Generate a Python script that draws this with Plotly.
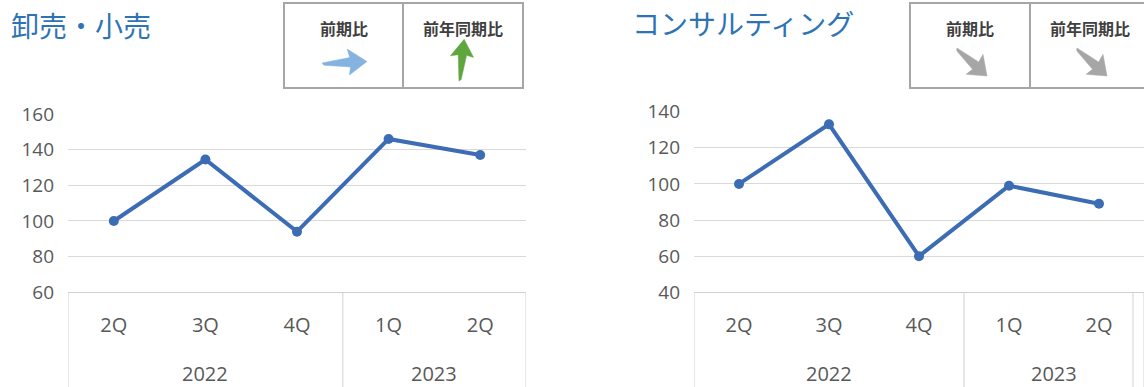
import math
import plotly.graph_objects as go

# ---- data -------------------------------------------------------------
quarters = ["2Q", "3Q", "4Q", "1Q", "2Q"]
years = ["2022", "2023"]
year_spans = [(0, 2), (3, 4)]          # index range of quarters per year
retail_values = [100, 134.5, 94, 146, 137]
consulting_values = [100, 133, 60, 99, 89]
titles = ["卸売・小売", "コンサルティング"]
badge_labels = ["前期比", "前年同期比"]
retail_yticks = [60, 80, 100, 120, 140, 160]
consulting_yticks = [40, 60, 80, 100, 120, 140]

W, H = 1144, 387
LINE_BLUE = "#3C6DB4"
GRID = "#D9D9D9"
TICK_GRAY = "#595959"
FONT = "Noto Sans CJK JP"
NUM_FONT = "Open Sans"


def px(x):
    return x / W


def py(y):
    return 1 - y / H


fig = go.Figure()

xpos = list(range(len(quarters)))
fig.add_trace(go.Scatter(
    x=xpos, y=retail_values, mode="lines+markers",
    line=dict(color=LINE_BLUE, width=4),
    marker=dict(size=10, color=LINE_BLUE),
    xaxis="x", yaxis="y", showlegend=False, hoverinfo="skip"))
fig.add_trace(go.Scatter(
    x=xpos, y=consulting_values, mode="lines+markers",
    line=dict(color=LINE_BLUE, width=4),
    marker=dict(size=10, color=LINE_BLUE),
    xaxis="x2", yaxis="y2", showlegend=False, hoverinfo="skip"))

xaxis_common = dict(
    range=[-0.5, len(quarters) - 0.5], tickmode="array", tickvals=xpos,
    ticktext=quarters, showgrid=False, zeroline=False,
    showline=True, linecolor="#D0D0D0", linewidth=1,
    ticks="", ticklabelstandoff=15, automargin=False,
    tickfont=dict(family=NUM_FONT, size=20, color=TICK_GRAY),
    fixedrange=True)
yaxis_common = dict(
    showgrid=True, gridcolor=GRID, gridwidth=1, zeroline=False,
    showline=False, ticks="", ticklabelstandoff=13, automargin=False,
    tickfont=dict(family=NUM_FONT, size=19, color=TICK_GRAY),
    fixedrange=True)

fig.update_layout(
    width=W, height=H, autosize=False,
    margin=dict(l=0, r=0, t=0, b=0, pad=0),
    paper_bgcolor="white", plot_bgcolor="white",
    showlegend=False,
    xaxis=dict(domain=[px(68), px(526)], anchor="y", **xaxis_common),
    yaxis=dict(domain=[py(292.3), py(114)], range=[60, 160],
               tickvals=retail_yticks, anchor="x", **yaxis_common),
    xaxis2=dict(domain=[px(694), 1.0], anchor="y2", **xaxis_common),
    yaxis2=dict(domain=[py(292.3), py(111.7)], range=[40, 140],
                tickvals=consulting_yticks, anchor="x2", **yaxis_common),
)

shapes = []
annotations = []

# year group labels and divider lines under each category axis
for xr in ("x", "x2"):
    bounds = [-0.5] + [span[1] + 0.5 for span in year_spans]
    for b in bounds:
        shapes.append(dict(type="line", xref=xr, yref="paper",
                           x0=b, x1=b, y0=0, y1=py(292.3),
                           line=dict(color="#D0D0D0", width=1)))
    for yr, (a, b) in zip(years, year_spans):
        annotations.append(dict(
            xref=xr, yref="paper", x=(a + b) / 2, y=py(373),
            text=yr, showarrow=False, xanchor="center", yanchor="middle",
            font=dict(family=NUM_FONT, size=20, color=TICK_GRAY)))

# extra frame line at the right of the second chart
shapes.append(dict(type="line", xref="paper", yref="paper",
                   x0=px(1133), x1=px(1133), y0=0, y1=py(292.3),
                   line=dict(color="#D0D0D0", width=1)))

# chart titles
annotations.append(dict(xref="paper", yref="paper", x=px(9), y=py(25),
                        xanchor="left", yanchor="middle", text=titles[0],
                        showarrow=False,
                        font=dict(family=FONT, size=28, color="#2E74B5")))
annotations.append(dict(xref="paper", yref="paper", x=px(630), y=py(23),
                        xanchor="left", yanchor="middle", text=titles[1],
                        showarrow=False,
                        font=dict(family=FONT, size=28, color="#2E74B5")))

# comparison badges: two framed cells each
for cells in ((284, 403, 523), (910, 1030, 1150)):
    for x0, x1 in ((cells[0], cells[1]), (cells[1], cells[2])):
        shapes.append(dict(type="rect", xref="paper", yref="paper",
                           x0=px(x0), x1=px(x1), y0=py(88), y1=py(3),
                           line=dict(color="#A6A6A6", width=2),
                           fillcolor="white", layer="below"))
    for label, x0, x1 in ((badge_labels[0], cells[0], cells[1]),
                          (badge_labels[1], cells[1], cells[2])):
        annotations.append(dict(
            xref="paper", yref="paper", x=px((x0 + x1) / 2), y=py(28),
            text="<b>" + label + "</b>", showarrow=False,
            xanchor="center", yanchor="middle",
            font=dict(family=FONT, size=16, color="#404040")))

# trend arrow glyph, template pointing along +x with unit length
ARROW = [(0.0, 0.0), (0.62, -0.10), (0.57, -0.29), (1.0, 0.0),
         (0.60, 0.29), (0.63, 0.11), (0.04, 0.05)]


def arrow_path(x_tail, y_tail, length, angle_deg, width_scale=1.0):
    t = math.radians(angle_deg)
    c, s = math.cos(t), math.sin(t)
    pts = []
    for u, v in ARROW:
        v *= width_scale
        X = x_tail + length * (u * c - v * s)
        Y = y_tail + length * (u * s + v * c)
        pts.append((px(X), py(Y)))
    return "M " + " L ".join(f"{a:.5f},{b:.5f}" for a, b in pts) + " Z"


arrows = [
    (322, 63, 45, -2, 1.0, "#84B3E0"),     # flat, light blue
    (459, 81, 42, -83, 0.95, "#5EA63D"),   # up, green
    (957, 48, 41, 43, 1.1, "#A6A6A6"),     # down, grey
    (1077, 48, 41, 43, 1.1, "#A6A6A6"),    # down, grey
]
for x0, y0, L, ang, ws, col in arrows:
    shapes.append(dict(type="path", xref="paper", yref="paper",
                       path=arrow_path(x0, y0, L, ang, ws),
                       fillcolor=col, line=dict(color=col, width=0.5)))

fig.update_layout(shapes=shapes, annotations=annotations)
fig.write_html("out.html", config={"displayModeBar": False})
